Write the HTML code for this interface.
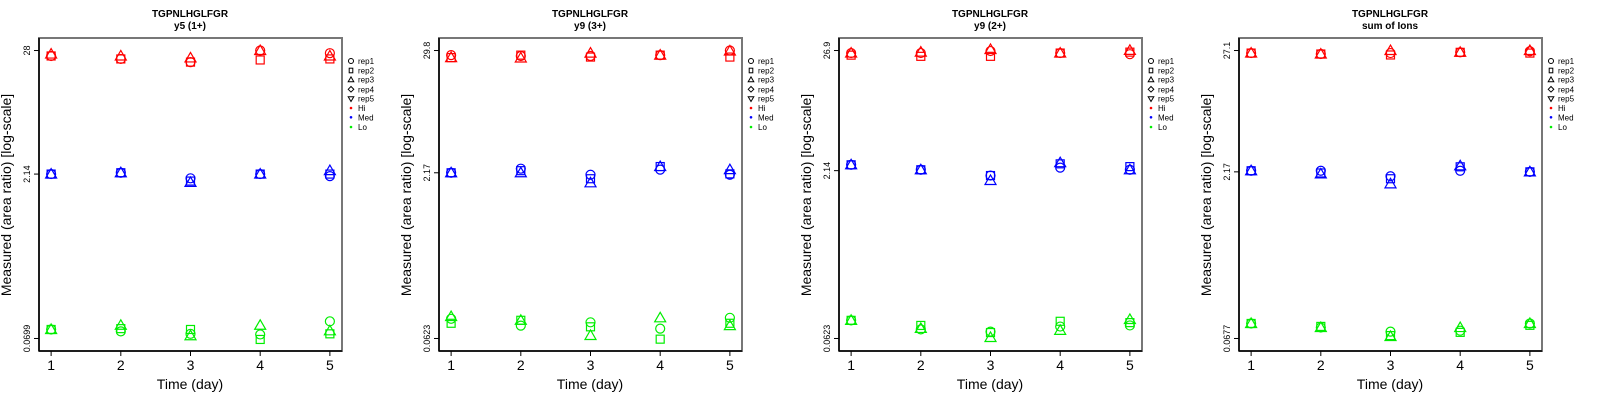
<!DOCTYPE html>
<html><head><meta charset="utf-8">
<style>
html,body{margin:0;padding:0;background:#fff;}
svg{display:block;font-family:"Liberation Sans",sans-serif;}
</style></head>
<body>
<svg id="chart" width="1600" height="400" viewBox="0 0 1600 400" xmlns="http://www.w3.org/2000/svg"></svg>
<script>
// ---- data ----
const days = [1, 2, 3, 4, 5];
const panelTitles = ["y5 (1+)", "y9 (3+)", "y9 (2+)", "sum of Ions"];
const peptide = "TGPNLHGLFGR";
const yMinTicks = [0.0699, 0.0623, 0.0623, 0.0677];
const yMidTicks = [2.14, 2.17, 2.14, 2.17];
const yMaxTicks = [28, 29.8, 26.9, 27.1];
const tickLabelsMin = ["0.0699", "0.0623", "0.0623", "0.0677"];
const tickLabelsMid = ["2.14", "2.17", "2.14", "2.17"];
const tickLabelsMax = ["28", "29.8", "26.9", "27.1"];
const levels = ["Hi", "Med", "Lo"];
const reps = ["rep1", "rep2", "rep3"];
// values[panel][level][rep][day]
const p1Hi  = [[25.0,23.5,22.0,28.0,26.5],[25.0,23.5,22.0,23.0,23.5],[26.0,25.0,24.0,28.0,25.0]];
const p1Med = [[2.14,2.20,1.96,2.14,2.05],[2.14,2.20,1.85,2.14,2.14],[2.14,2.20,1.80,2.14,2.30]];
const p1Lo  = [[0.0843,0.081,0.077,0.076,0.0999],[0.0843,0.0858,0.0843,0.0685,0.077],[0.0843,0.092,0.074,0.092,0.082]];
const p2Hi  = [[27.0,26.5,26.5,27.0,29.8],[25.6,27.0,25.9,27.0,25.9],[25.6,25.4,28.2,27.0,29.5]];
const p2Med = [[2.17,2.37,2.08,2.32,2.08],[2.17,2.27,1.91,2.48,2.12],[2.17,2.17,1.75,2.48,2.32]];
const p2Lo  = [[0.095,0.0821,0.0881,0.077,0.097],[0.0863,0.092,0.080,0.0614,0.0863],[0.0997,0.092,0.0664,0.097,0.0821]];
const p3Hi  = [[25.5,25.5,26.6,25.5,24.9],[24.4,23.8,23.8,25.5,26.0],[25.5,26.0,27.5,25.5,27.0]];
const p3Med = [[2.42,2.18,1.93,2.28,2.18],[2.42,2.18,1.93,2.47,2.33],[2.42,2.18,1.74,2.53,2.18]];
const p3Lo  = [[0.0913,0.0755,0.072,0.0801,0.082],[0.0913,0.082,0.0706,0.0895,0.087],[0.0913,0.077,0.0636,0.0739,0.093]];
const p4Hi  = [[25.7,25.2,25.7,26.1,26.7],[25.7,25.2,24.7,26.1,25.7],[25.7,25.2,27.1,26.1,27.1]];
const p4Med = [[2.22,2.22,1.98,2.22,2.17],[2.22,2.12,1.88,2.41,2.17],[2.22,2.08,1.69,2.46,2.17]];
const p4Lo  = [[0.0925,0.085,0.0781,0.0796,0.0925],[0.0925,0.087,0.0719,0.0769,0.089],[0.0925,0.085,0.0706,0.085,0.0925]];
const panelData = [[p1Hi,p1Med,p1Lo],[p2Hi,p2Med,p2Lo],[p3Hi,p3Med,p3Lo],[p4Hi,p4Med,p4Lo]];
const levelColors = ["#ff0000", "#0000ff", "#00ee00"];

const svg = document.getElementById('chart');
const NS = "http://www.w3.org/2000/svg";
function mk(tag, attrs, parent) {
  const e = document.createElementNS(NS, tag);
  for (const k in attrs) e.setAttribute(k, attrs[k]);
  (parent || svg).appendChild(e);
  return e;
}
function marker(g, shape, cx, cy, color) {
  let e;
  if (shape === 0) e = mk('circle', {cx: cx, cy: cy, r: 4.5, fill: 'none', stroke: color, 'stroke-width': 1.2}, g);
  else if (shape === 1) e = mk('rect', {x: cx - 4, y: cy - 4, width: 8, height: 8, fill: 'none', stroke: color, 'stroke-width': 1.2}, g);
  else e = mk('polygon', {points: (cx - 5.5) + ',' + (cy + 4) + ' ' + (cx + 5.5) + ',' + (cy + 4) + ' ' + cx + ',' + (cy - 5.5), fill: 'none', stroke: color, 'stroke-width': 1.2}, g);
  return e;
}

for (let p = 0; p < 4; p++) {
  const ox = p * 400;
  const L = ox + 39, R = ox + 342, T = 38, B = 351;
  const xPad = (R - L) * 0.04, yPad = (B - T) * 0.04;
  const xScale = d => L + xPad + (d - days[0]) / (days[days.length - 1] - days[0]) * (R - L - 2 * xPad);
  const lmin = Math.log10(yMinTicks[p]), lmax = Math.log10(yMaxTicks[p]);
  const yScale = v => B - yPad - (Math.log10(v) - lmin) / (lmax - lmin) * (B - T - 2 * yPad);

  const g = mk('g', {});
  
  

  const t1 = mk('text', {x: ox + 190, y: 17, 'text-anchor': 'middle', 'font-size': 10, 'font-weight': 'bold'}, g);
  t1.textContent = peptide;
  
  
  const t2 = mk('text', {x: ox + 190, y: 29, 'text-anchor': 'middle', 'font-size': 10, 'font-weight': 'bold'}, g);
  t2.textContent = panelTitles[p];
  
  

  // box
  const fr = mk('rect', {x: L, y: T, width: R - L, height: B - T, fill: 'none', stroke: '#777', 'stroke-width': 2}, g);
  
  
  mk('line', {x1: L, y1: T, x2: L, y2: B, stroke: '#000', 'stroke-width': 1.5}, g);
  mk('line', {x1: L, y1: B, x2: R, y2: B, stroke: '#000', 'stroke-width': 1.5}, g);

  // x ticks
  days.forEach(d => {
    const x = xScale(d);
    mk('line', {x1: x, y1: B, x2: x, y2: B + 5, stroke: '#000', 'stroke-width': 1}, g);
    const tl = mk('text', {x: x, y: 370, 'text-anchor': 'middle', 'font-size': 14}, g);
    tl.textContent = d;
    
    
  });
  const xt = mk('text', {x: ox + 190, y: 389, 'text-anchor': 'middle', 'font-size': 14}, g);
  xt.textContent = 'Time (day)';
  
  

  // y ticks
  const yt = [[yMinTicks[p], tickLabelsMin[p]], [yMidTicks[p], tickLabelsMid[p]], [yMaxTicks[p], tickLabelsMax[p]]];
  yt.forEach(([v, lab]) => {
    const y = yScale(v);
    mk('line', {x1: L - 5, y1: y, x2: L, y2: y, stroke: '#000', 'stroke-width': 1}, g);
    const tl = mk('text', {x: ox + 30, y: y, 'text-anchor': 'middle', 'font-size': 9, transform: 'rotate(-90 ' + (ox + 30) + ' ' + y + ')'}, g);
    tl.textContent = lab;
    
    
  });
  const ya = mk('text', {x: ox + 11, y: 195, 'text-anchor': 'middle', 'font-size': 14, transform: 'rotate(-90 ' + (ox + 11) + ' 195)'}, g);
  ya.textContent = 'Measured (area ratio) [log-scale]';
  
  

  // points
  for (let l = 0; l < levels.length; l++) {
    for (let r = 0; r < reps.length; r++) {
      const vals = panelData[p][l][r];
      vals.forEach((v, i) => {
        const m = marker(g, r, xScale(days[i]), yScale(v), levelColors[l]);
        
        
      });
    }
  }

  // legend
  const lg = mk('g', {}, g);
  
  
  const legLabels = ['rep1', 'rep2', 'rep3', 'rep4', 'rep5', 'Hi', 'Med', 'Lo'];
  const legY = [61, 70.5, 79.7, 89.3, 98.7, 108, 117.3, 127];
  legLabels.forEach((lab, i) => {
    const y = legY[i], sx = ox + 351;
    if (i === 0) mk('circle', {cx: sx, cy: y, r: 2.5, fill: 'none', stroke: '#000', 'stroke-width': 1}, lg);
    else if (i === 1) mk('rect', {x: sx - 1.8, y: y - 2.3, width: 3.6, height: 4.6, fill: 'none', stroke: '#000', 'stroke-width': 1}, lg);
    else if (i === 2) mk('polygon', {points: (sx - 2.8) + ',' + (y + 2) + ' ' + (sx + 2.8) + ',' + (y + 2) + ' ' + sx + ',' + (y - 2.8), fill: 'none', stroke: '#000', 'stroke-width': 1}, lg);
    else if (i === 3) mk('polygon', {points: (sx - 2.8) + ',' + y + ' ' + sx + ',' + (y - 2.8) + ' ' + (sx + 2.8) + ',' + y + ' ' + sx + ',' + (y + 2.8), fill: 'none', stroke: '#000', 'stroke-width': 1}, lg);
    else if (i === 4) mk('polygon', {points: (sx - 2.8) + ',' + (y - 2) + ' ' + (sx + 2.8) + ',' + (y - 2) + ' ' + sx + ',' + (y + 2.8), fill: 'none', stroke: '#000', 'stroke-width': 1}, lg);
    else mk('circle', {cx: sx, cy: y, r: 1.3, fill: levelColors[i - 5]}, lg);
    const tx = mk('text', {x: ox + 358, y: y + 3, 'font-size': 8}, lg);
    tx.textContent = lab;
    
    
  });
}
</script>
</body></html>
